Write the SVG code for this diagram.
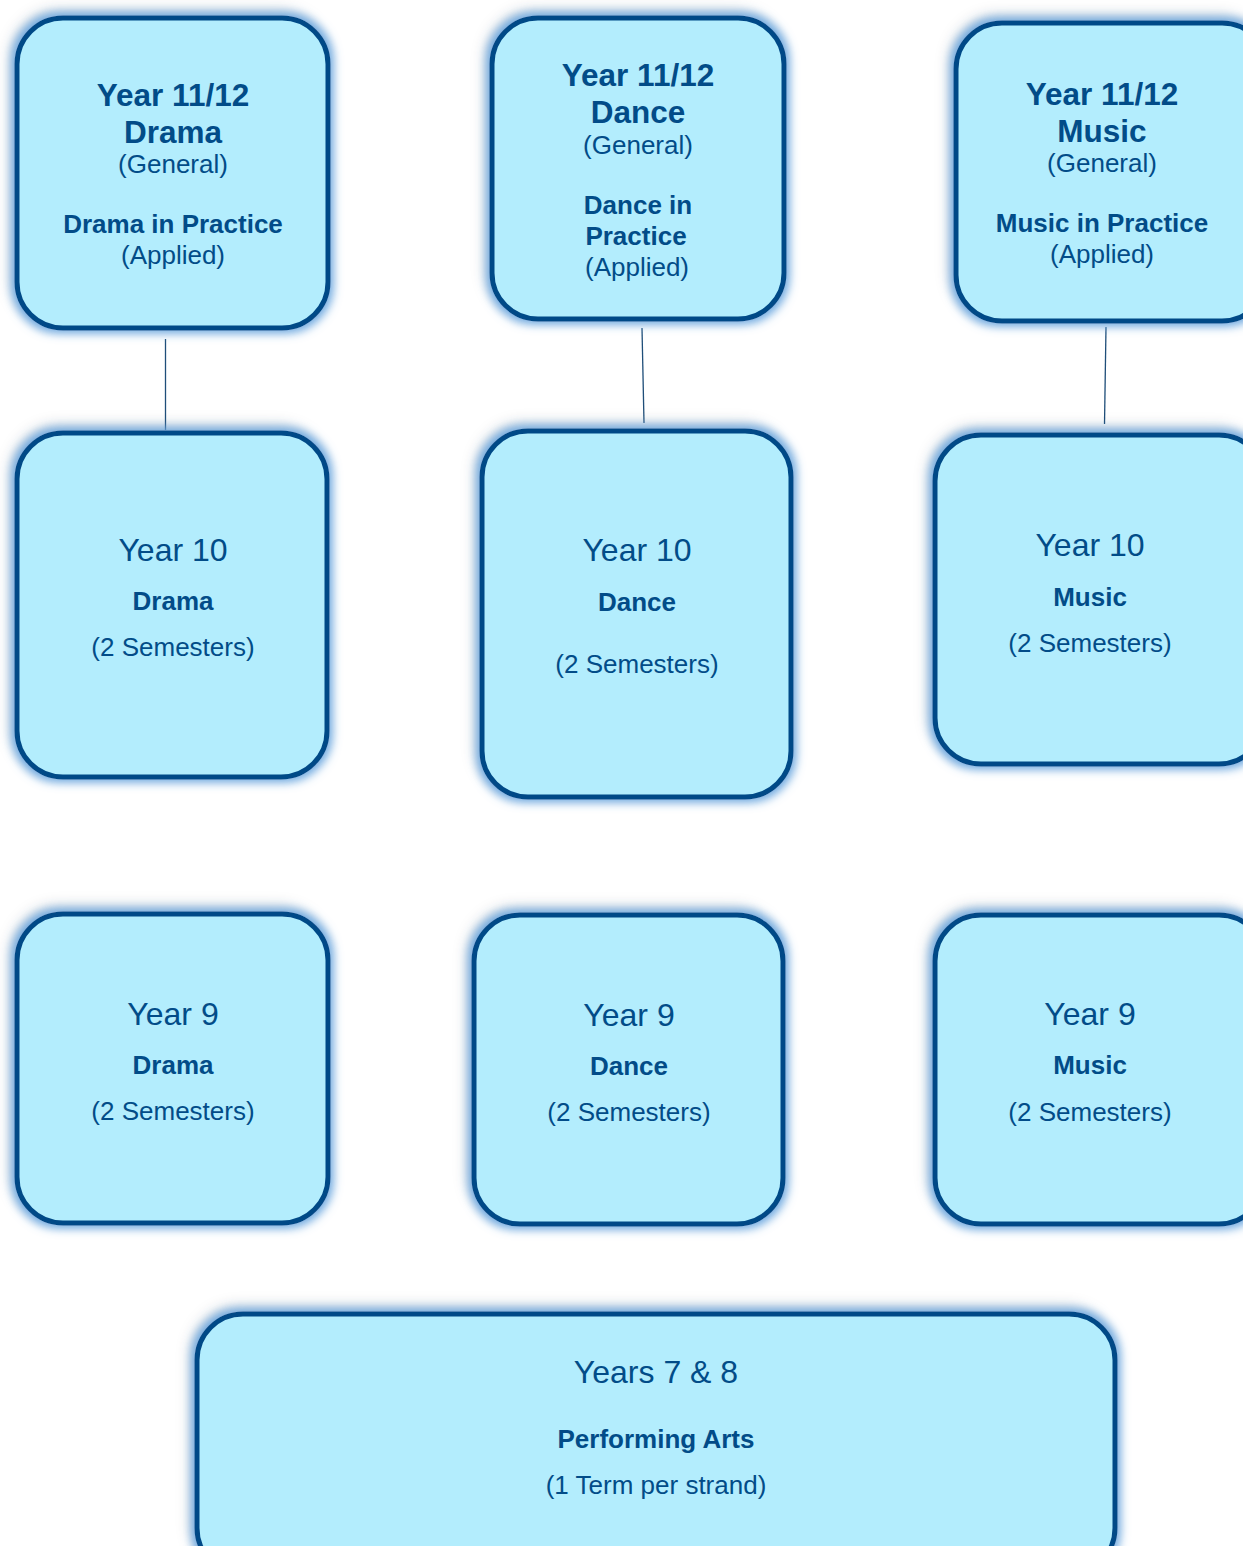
<svg xmlns="http://www.w3.org/2000/svg" width="1243" height="1546" viewBox="0 0 1243 1546">
  <defs>
    <!-- soft blue halo with a faint grey shade to the upper left -->
    <filter id="glow" x="-15%" y="-15%" width="130%" height="130%">
      <feMorphology in="SourceAlpha" operator="dilate" radius="3" result="d"/>
      <feGaussianBlur in="d" stdDeviation="5" result="b"/>
      <feFlood flood-color="#68a6e0" flood-opacity="0.95"/>
      <feComposite in2="b" operator="in" result="halo"/>
      <feGaussianBlur in="SourceAlpha" stdDeviation="7" result="s"/>
      <feOffset in="s" dx="-4" dy="-5" result="so"/>
      <feFlood flood-color="#000000" flood-opacity="0.28"/>
      <feComposite in2="so" operator="in" result="shade"/>
      <feMerge>
        <feMergeNode in="shade"/>
        <feMergeNode in="halo"/>
        <feMergeNode in="SourceGraphic"/>
      </feMerge>
    </filter>
    <style>
      .box { fill: #b3edfd; stroke: #014a87; stroke-width: 5; filter: url(#glow); }
      text { font-family: "Liberation Sans", Arial, sans-serif; fill: #024c88; text-anchor: middle; }
      .big { font-size: 32px; }
      .bigb { font-size: 31.5px; font-weight: bold; }
      .sub { font-size: 26px; }
      .subb { font-size: 26px; font-weight: bold; }
      .link { stroke: #1f4e79; stroke-width: 1.3; fill: none; }
    </style>
  </defs>
  <rect width="1243" height="1546" fill="#ffffff"/>

  <g id="connectors">
    <line class="link" x1="165.5" y1="339" x2="165.5" y2="430"/>
    <line class="link" x1="642" y1="328" x2="644" y2="423"/>
    <line class="link" x1="1106" y1="327" x2="1104.5" y2="424"/>
  </g>

  <g id="drama-senior">
    <rect class="box" x="17" y="18" width="311" height="310" rx="46"/>
    <text class="bigb" x="173" y="106">Year 11/12</text>
    <text class="bigb" x="173" y="143">Drama</text>
    <text class="sub" x="173" y="173">(General)</text>
    <text class="subb" x="173" y="233">Drama in Practice</text>
    <text class="sub" x="173" y="264">(Applied)</text>
  </g>

  <g id="dance-senior">
    <rect class="box" x="492" y="18" width="292" height="301" rx="46"/>
    <text class="bigb" x="638" y="86">Year 11/12</text>
    <text class="bigb" x="638" y="123">Dance</text>
    <text class="sub" x="638" y="154">(General)</text>
    <text class="subb" x="638" y="214">Dance in</text>
    <text class="subb" x="636" y="245">Practice</text>
    <text class="sub" x="637" y="276">(Applied)</text>
  </g>

  <g id="music-senior">
    <rect class="box" x="956" y="23" width="312" height="298" rx="46"/>
    <text class="bigb" x="1102" y="105">Year 11/12</text>
    <text class="bigb" x="1102" y="142">Music</text>
    <text class="sub" x="1102" y="172">(General)</text>
    <text class="subb" x="1102" y="232">Music in Practice</text>
    <text class="sub" x="1102" y="263">(Applied)</text>
  </g>

  <g id="drama-10">
    <rect class="box" x="17" y="433" width="310" height="344" rx="46"/>
    <text class="big" x="173" y="561">Year 10</text>
    <text class="subb" x="173" y="610">Drama</text>
    <text class="sub" x="173" y="656">(2 Semesters)</text>
  </g>

  <g id="dance-10">
    <rect class="box" x="482" y="431" width="309" height="366" rx="46"/>
    <text class="big" x="637" y="561">Year 10</text>
    <text class="subb" x="637" y="611">Dance</text>
    <text class="sub" x="637" y="673">(2 Semesters)</text>
  </g>

  <g id="music-10">
    <rect class="box" x="935" y="435" width="330" height="329" rx="46"/>
    <text class="big" x="1090" y="556">Year 10</text>
    <text class="subb" x="1090" y="606">Music</text>
    <text class="sub" x="1090" y="652">(2 Semesters)</text>
  </g>

  <g id="drama-9">
    <rect class="box" x="17" y="914" width="311" height="309" rx="46"/>
    <text class="big" x="173" y="1025">Year 9</text>
    <text class="subb" x="173" y="1074">Drama</text>
    <text class="sub" x="173" y="1120">(2 Semesters)</text>
  </g>

  <g id="dance-9">
    <rect class="box" x="474" y="915" width="309" height="309" rx="46"/>
    <text class="big" x="629" y="1026">Year 9</text>
    <text class="subb" x="629" y="1075">Dance</text>
    <text class="sub" x="629" y="1121">(2 Semesters)</text>
  </g>

  <g id="music-9">
    <rect class="box" x="935" y="915" width="330" height="309" rx="46"/>
    <text class="big" x="1090" y="1025">Year 9</text>
    <text class="subb" x="1090" y="1074">Music</text>
    <text class="sub" x="1090" y="1121">(2 Semesters)</text>
  </g>

  <g id="years-7-8">
    <rect class="box" x="197" y="1314" width="918" height="260" rx="46"/>
    <text class="big" x="656" y="1383">Years 7 &amp; 8</text>
    <text class="subb" x="656" y="1448">Performing Arts</text>
    <text class="sub" x="656" y="1494">(1 Term per strand)</text>
  </g>
</svg>
